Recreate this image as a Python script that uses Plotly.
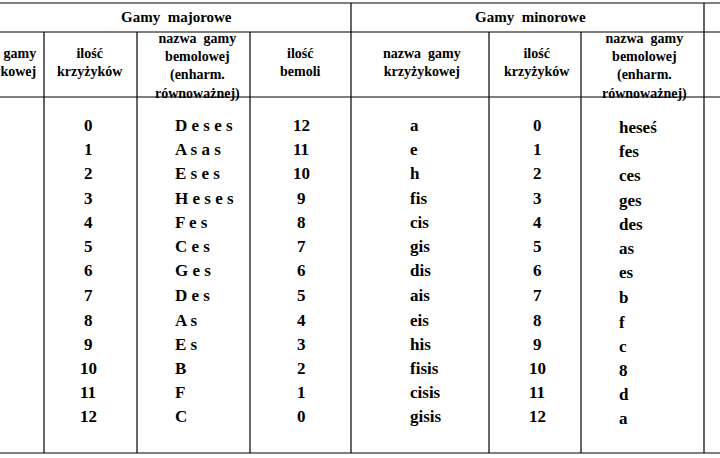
import plotly.graph_objects as go

# data
sharps = list(range(13))
major_flat_names = ["Deses", "Asas", "Eses", "Heses", "Fes", "Ces", "Ges", "Des", "As", "Es", "B", "F", "C"]
major_flats = [12, 11, 10, 9, 8, 7, 6, 5, 4, 3, 2, 1, 0]
minor_sharp_names = ["a", "e", "h", "fis", "cis", "gis", "dis", "ais", "eis", "his", "fisis", "cisis", "gisis"]
minor_flat_names = ["heseś", "fes", "ces", "ges", "des", "as", "es", "b", "f", "c", "8", "d", "a"]

row_y = [125, 149, 173, 198, 222, 246, 270, 295, 320, 344, 368, 392, 416]

FONT = "Liberation Serif"
W, H = 720, 458

fig = go.Figure()
fig.add_trace(go.Scatter(x=[0, W], y=[0, H], mode="markers", marker_opacity=0, hoverinfo="skip"))

line = dict(color="black", width=1.2)
shapes = []
for yy in [3, 32, 97, 453]:
    shapes.append(dict(type="line", x0=0, x1=W, y0=yy, y1=yy, line=line))
for xx in [44, 137, 250, 489, 581]:
    shapes.append(dict(type="line", x0=xx, x1=xx, y0=32, y1=453, line=line))
for xx in [351, 704]:
    shapes.append(dict(type="line", x0=xx, x1=xx, y0=3, y1=453, line=line))

ann = []


def txt(x, y, s, size=17, anchor="center", align="center"):
    ann.append(dict(x=x, y=y, text=s, showarrow=False, xanchor=anchor, yanchor="middle",
                    font=dict(family=FONT, size=size, color="black"), align=align))


txt(176, 17, "<b>Gamy  majorowe</b>", 15)
txt(530, 17, "<b>Gamy  minorowe</b>", 15)
hdr = 14
txt(38, 62, "<b>nazwa gamy<br>krzyżykowej</b>", hdr, anchor="right", align="right")
txt(90, 62, "<b>ilość<br>krzyżyków</b>", hdr)
txt(197, 66, "<b>nazwa  gamy<br>bemolowej<br>(enharm.<br>równoważnej)</b>", hdr)
txt(300, 62, "<b>ilość<br>bemoli</b>", hdr)
txt(422, 62, "<b>nazwa  gamy<br>krzyżykowej</b>", hdr)
txt(537, 62, "<b>ilość<br>krzyżyków</b>", hdr)
txt(644, 66, "<b>nazwa  gamy<br>bemolowej<br>(enharm.<br>równoważnej)</b>", hdr)

for i, yy in enumerate(row_y):
    txt(88, yy, f"<b>{sharps[i]}</b>")
    txt(173, yy, f"<b>{' '.join(major_flat_names[i])}</b>", anchor="left")
    txt(301, yy, f"<b>{major_flats[i]}</b>")
    txt(408, yy, f"<b>{minor_sharp_names[i]}</b>", anchor="left")
    txt(537, yy, f"<b>{sharps[i]}</b>")
    txt(617, yy + 2, f"<b>{minor_flat_names[i]}</b>", anchor="left")

fig.update_layout(
    width=W, height=H, margin=dict(l=0, r=0, t=0, b=0),
    plot_bgcolor="white", paper_bgcolor="white", showlegend=False,
    xaxis=dict(range=[0, W], visible=False, fixedrange=True),
    yaxis=dict(range=[H, 0], visible=False, fixedrange=True),
    shapes=shapes, annotations=ann,
)
fig.write_html("out.html", post_script="document.body.style.margin='0';",
               config={"displayModeBar": False})
